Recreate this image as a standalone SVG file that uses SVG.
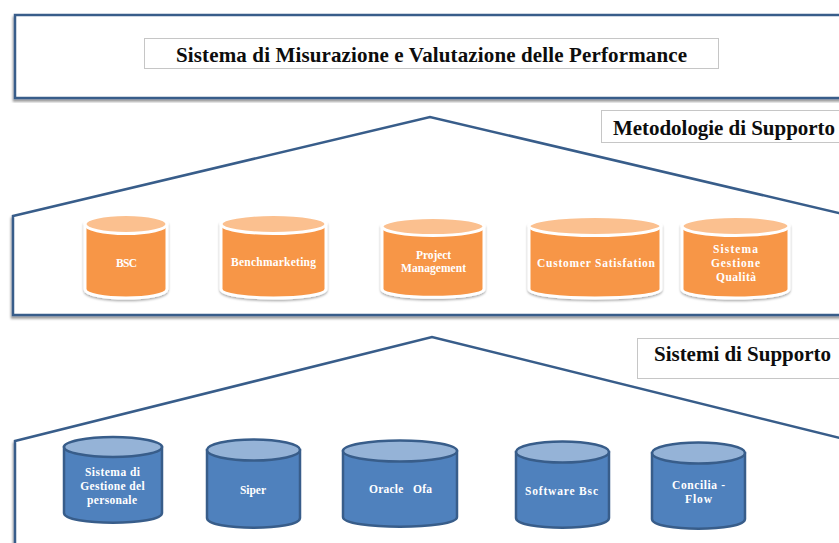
<svg xmlns="http://www.w3.org/2000/svg" width="839" height="543" viewBox="0 0 839 543">
<style>
.frame{fill:#fff;stroke:#385d8a;stroke-width:2.5;filter:url(#sh)}
.lbl{fill:#fff;stroke:#c6c6c6;stroke-width:1}
.ttl{font:bold 21px "Liberation Serif","DejaVu Serif",serif;fill:#0d0d0d;text-anchor:middle}
.ot{font:bold 11.500px "Liberation Serif","DejaVu Serif",serif;fill:#fff;text-anchor:middle}
.ob{fill:#f79646;stroke:#fff;stroke-width:3;filter:url(#sh2)}
.ol{fill:#fbc08f;stroke:#fff;stroke-width:3}
.bb{fill:#4f81bd;stroke:#385d8a;stroke-width:2.5}
.bl{fill:#95b3d7;stroke:#385d8a;stroke-width:2.5}
</style>
<defs>
<filter id="sh" x="-5%" y="-5%" width="110%" height="110%"><feDropShadow dx="-1" dy="2.5" stdDeviation="1.2" flood-color="#000" flood-opacity=".4"/></filter>
<filter id="sh2" x="-10%" y="-10%" width="120%" height="120%"><feDropShadow dx="0" dy="1.500" stdDeviation="1.200" flood-color="#000" flood-opacity=".35"/></filter>
</defs>
<g id="frame-performance"><rect class="frame" x="15" y="15" width="860" height="83"/></g>
<g id="label-performance"><rect class="lbl" x="144.500" y="38.500" width="574" height="30"/><text class="ttl" x="431.5" y="62" textLength="511">Sistema di Misurazione e Valutazione delle Performance</text></g>
<g id="frame-metodologie"><path class="frame" d="M13 216 430 117 860 218V315H13Z"/></g>
<g id="label-metodologie"><rect class="lbl" x="601.500" y="110.500" width="260" height="32"/><text class="ttl" x="724" y="134.500" textLength="222">Metodologie di Supporto</text></g>
<g id="frame-sistemi"><path class="frame" d="M15 441 432 337 860 443V570H15Z"/></g>
<g id="label-sistemi"><rect class="lbl" x="637.500" y="338.500" width="240" height="40"/><text class="ttl" x="742.500" y="361" textLength="177">Sistemi di Supporto</text></g>

<g id="bsc"><path class="ob" d="M85 224V289C85 301 167 301 167 289V224Z"/><ellipse class="ol" cx="126" cy="224" rx="41" ry="9.5"/><text class="ot" x="126.500" y="267" textLength="21">BSC</text></g>
<g id="benchmarketing"><path class="ob" d="M221 224V289C221 301 326 301 326 289V224Z"/><ellipse class="ol" cx="273.500" cy="224" rx="52.500" ry="9.500"/><text class="ot" x="273.500" y="266" textLength="85">Benchmarketing</text></g>
<g id="project"><path class="ob" d="M382 226.500V289C382 300 484 300 484 289V226.500Z"/><ellipse class="ol" cx="433" cy="226.500" rx="51" ry="9"/><text class="ot" x="433.500" y="259" textLength="35">Project</text><text class="ot" x="433.500" y="272" textLength="65">Management</text></g>
<g id="customer"><path class="ob" d="M529 226V289C529 301 661 301 661 289V226Z"/><ellipse class="ol" cx="595" cy="226" rx="66" ry="9.500"/><text class="ot" x="596" y="267" textLength="118">Customer Satisfation</text></g>
<g id="qualita"><path class="ob" d="M682 226V289C682 301 789 301 789 289V226Z"/><ellipse class="ol" cx="735.500" cy="226" rx="53.500" ry="9.500"/><text class="ot" x="735.500" y="253" textLength="45">Sistema</text><text class="ot" x="735.500" y="267" textLength="49">Gestione</text><text class="ot" x="736" y="281" textLength="40">Qualità</text></g>

<g id="gestione-personale"><path class="bb" d="M64 447V513C64 526 162 526 162 513V447Z"/><ellipse class="bl" cx="113" cy="447" rx="49" ry="10"/><text class="ot" x="112.500" y="476" textLength="55">Sistema  di</text><text class="ot" x="112.500" y="490" textLength="64.500">Gestione  del</text><text class="ot" x="112" y="504" textLength="50">personale</text></g>
<g id="siper"><path class="bb" d="M207 450V518C207 531 300 531 300 518V450Z"/><ellipse class="bl" cx="253.500" cy="450" rx="46.500" ry="10.500"/><text class="ot" x="253" y="494" textLength="26">Siper</text></g>
<g id="oracle"><path class="bb" d="M343 451V517C343 530 457 530 457 517V451Z"/><ellipse class="bl" cx="400" cy="451" rx="57" ry="10.500"/><text class="ot" x="400.500" y="493" textLength="63" xml:space="preserve">Oracle   Ofa</text></g>
<g id="software"><path class="bb" d="M516 452V518C516 531 609 531 609 518V452Z"/><ellipse class="bl" cx="562.500" cy="452" rx="46.500" ry="10.500"/><text class="ot" x="561.500" y="495" textLength="73">Software Bsc</text></g>
<g id="concilia"><path class="bb" d="M652 453V519C652 532 745 532 745 519V453Z"/><ellipse class="bl" cx="698.500" cy="453" rx="46.500" ry="10.500"/><text class="ot" x="698.500" y="489" textLength="53">Concilia -</text><text class="ot" x="698.500" y="503" textLength="27">Flow</text></g>
</svg>
